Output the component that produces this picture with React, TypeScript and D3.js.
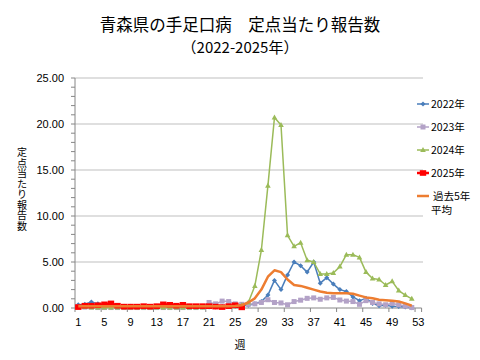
import React from "react";
import * as d3 from "d3";

const weeks: number[] = d3.range(1, 54);
const xTickLabels: number[] = [1, 5, 9, 13, 17, 21, 25, 29, 33, 37, 41, 45, 49, 53];
const yTicks: number[] = [0, 5, 10, 15, 20, 25];

const y2022: number[] = [0.35, 0.4, 0.65, 0.45, 0.35, 0.3, 0.25, 0.2, 0.2, 0.15, 0.2, 0.15, 0.2, 0.2, 0.15, 0.2, 0.15, 0.2, 0.15, 0.1, 0.1, 0.1, 0.1, 0.15, 0.2, 0.25, 0.3, 0.45, 0.7, 1.4, 3.0, 2.0, 3.6, 5.0, 4.6, 3.9, 5.0, 2.7, 3.3, 2.6, 2.0, 1.8, 1.2, 0.8, 1.05, 0.5, 0.25, 0.3, 0.2, 0.15, 0.1, 0.02];
const y2023: number[] = [0.1, 0.1, 0.1, 0.05, 0.05, 0.05, 0.05, 0.05, 0.05, 0.05, 0.05, 0.05, 0.05, 0.05, 0.05, 0.05, 0.05, 0.05, 0.05, 0.1, 0.6, 0.45, 0.75, 0.7, 0.45, 0.4, 0.4, 0.45, 0.6, 0.9, 0.6, 0.55, 0.35, 0.7, 0.85, 1.05, 1.1, 0.95, 1.1, 1.15, 0.87, 0.75, 0.7, 0.4, 0.8, 0.6, 0.45, 0.35, 0.5, 0.35, 0.2, 0.05];
const y2024: number[] = [0.1, 0.1, 0.05, 0.05, 0.05, 0.05, 0.05, 0.05, 0.05, 0.05, 0.05, 0.05, 0.05, 0.05, 0.05, 0.05, 0.05, 0.05, 0.05, 0.05, 0.1, 0.1, 0.1, 0.15, 0.2, 0.3, 0.6, 2.4, 6.3, 13.3, 20.7, 19.9, 7.9, 6.7, 7.1, 5.2, 5.0, 3.7, 3.7, 3.8, 4.5, 5.8, 5.8, 5.5, 3.9, 3.2, 3.1, 2.5, 2.9, 1.9, 1.4, 1.0];
const y2025: number[] = [0.1, 0.25, 0.25, 0.3, 0.4, 0.5, 0.25, 0.15, 0.15, 0.15, 0.2, 0.15, 0.2, 0.4, 0.35, 0.25, 0.35, 0.2, 0.2, 0.2, 0.2, 0.15, 0.1, 0.2, 0.3, 0.07];
const avg5: number[] = [0.2, 0.2, 0.2, 0.2, 0.2, 0.2, 0.2, 0.2, 0.18, 0.18, 0.18, 0.18, 0.18, 0.18, 0.18, 0.18, 0.18, 0.18, 0.18, 0.18, 0.18, 0.18, 0.2, 0.2, 0.22, 0.3, 0.6, 1.05, 2.0, 3.4, 4.1, 3.9, 3.1, 2.5, 2.4, 2.2, 2.0, 1.8, 1.65, 1.6, 1.6, 1.6, 1.55, 1.35, 1.15, 1.05, 0.9, 0.85, 0.8, 0.7, 0.5, 0.25];

const seriesNames: string[] = ["2022年", "2023年", "2024年", "2025年"];

type Marker = "diamond" | "square" | "triangle" | "bigsquare" | "none";
interface Series { name: string; values: number[]; color: string; width: number; marker: Marker; }

const series: Series[] = [
  { name: seriesNames[0], values: y2022, color: "#4A7EBB", width: 1.5, marker: "diamond" },
  { name: seriesNames[1], values: y2023, color: "#B3A2C7", width: 1.5, marker: "square" },
  { name: seriesNames[2], values: y2024, color: "#9BBB59", width: 1.5, marker: "triangle" },
  { name: seriesNames[3], values: y2025, color: "#FF0000", width: 2.5, marker: "bigsquare" },
  { name: "過去5年平均", values: avg5, color: "#ED7D31", width: 2.5, marker: "none" },
];

function MarkerShape({ type, x, y, color }: { type: Marker; x: number; y: number; color: string }) {
  if (type === "diamond") {
    return <path d={`M${x},${y - 2.5}L${x + 2.5},${y}L${x},${y + 2.5}L${x - 2.5},${y}Z`} fill={color} />;
  }
  if (type === "square") {
    return <rect x={x - 2.5} y={y - 2.5} width={5} height={5} fill={color} />;
  }
  if (type === "triangle") {
    return <path d={`M${x},${y - 3}L${x + 2.8},${y + 2}L${x - 2.8},${y + 2}Z`} fill={color} />;
  }
  if (type === "bigsquare") {
    return <rect x={x - 3.2} y={y - 2.8} width={6.4} height={5.6} fill={color} />;
  }
  return null;
}

export default function App() {
  const W = 480, H = 360;
  const left = 75, right = 421.6, top = 78, bottom = 308;
  const x = d3.scaleBand<number>().domain(weeks).range([left, right]).padding(0);
  const cx = (w: number) => (x(w) as number) + x.bandwidth() / 2;
  const y = d3.scaleLinear().domain([0, 25]).range([bottom, top]);
  const line = d3.line<number>().x((_, i) => cx(i + 1)).y((d) => y(d));

  const font = "'Liberation Sans', Arial, sans-serif";
  const jfont = "'Noto Sans CJK JP', sans-serif";
  const minor = d3.range(0, 26);
  const xTickBounds = d3.range(1, 54, 4);
  const yTitle = "定点当たり報告数".split("");

  const legendItems = series;
  const legendY = [104, 127, 150, 173, 196];

  return (
    <svg width={W} height={H} style={{ position: "absolute", left: 0, top: 0, background: "#fff" }}>
      <rect width={W} height={H} fill="#fff" />
      <text x={240} y={31} textAnchor="middle" fontFamily={jfont} fontSize={16.5} fill="#000">青森県の手足口病　定点当たり報告数</text>
      <text x={240} y={53} textAnchor="middle" fontFamily={jfont} fontSize={15} fill="#000">（2022-2025年）</text>

      {yTicks.filter((t) => t > 0).map((t) => (
        <line key={"g" + t} x1={left} x2={423} y1={y(t)} y2={y(t)} stroke="#BFBFBF" strokeWidth={1} />
      ))}
      {minor.map((t) => (
        <line key={"m" + t} x1={71} x2={left} y1={y(t)} y2={y(t)} stroke="#868686" strokeWidth={1} />
      ))}
      <line x1={left} x2={left} y1={top} y2={bottom} stroke="#868686" strokeWidth={1} />
      <line x1={left} x2={right} y1={bottom} y2={bottom} stroke="#868686" strokeWidth={1} />
      {xTickBounds.map((w) => (
        <line key={"xt" + w} x1={x(w) as number} x2={x(w) as number} y1={bottom} y2={bottom + 4} stroke="#868686" strokeWidth={1} />
      ))}
      <line x1={right} x2={right} y1={bottom} y2={bottom + 4} stroke="#868686" strokeWidth={1} />

      {yTicks.map((t) => (
        <text key={"yl" + t} x={64} y={y(t) + 4} textAnchor="end" fontFamily={font} fontSize={11} fill="#000">{t.toFixed(2)}</text>
      ))}
      {xTickLabels.map((w) => (
        <text key={"xl" + w} x={cx(w)} y={326} textAnchor="middle" fontFamily={font} fontSize={11} fill="#000">{w}</text>
      ))}
      <text fontFamily={jfont} fontSize={10} fill="#000" textAnchor="middle">
        {yTitle.map((c, i) => (
          <tspan key={"yt" + i} x={22} y={156 + i * 10.5}>{c}</tspan>
        ))}
      </text>
      <text x={240} y={349} textAnchor="middle" fontFamily={jfont} fontSize={11} fill="#000">週</text>

      {series.map((s) => (
        <g key={s.name}>
          <path d={line(s.values) || ""} fill="none" stroke={s.color} strokeWidth={s.width} strokeLinejoin="round" />
          {s.values.map((v, i) => (
            <MarkerShape key={i} type={s.marker} x={cx(i + 1)} y={y(v)} color={s.color} />
          ))}
        </g>
      ))}

      {legendItems.map((s, i) => (
        <g key={"lg" + i}>
          <line x1={417} x2={429} y1={legendY[i]} y2={legendY[i]} stroke={s.color} strokeWidth={s.width} />
          <MarkerShape type={s.marker} x={423} y={legendY[i]} color={s.color} />
          {i < 4 ? (
            <text x={431} y={legendY[i] + 4} fontFamily={jfont} fontSize={10.5} fill="#000">{s.name}</text>
          ) : (
            <>
              <text x={433} y={legendY[i] + 4} fontFamily={jfont} fontSize={10.5} fill="#000">過去5年</text>
              <text x={431} y={legendY[i] + 18} fontFamily={jfont} fontSize={10.5} fill="#000">平均</text>
            </>
          )}
        </g>
      ))}
    </svg>
  );
}
